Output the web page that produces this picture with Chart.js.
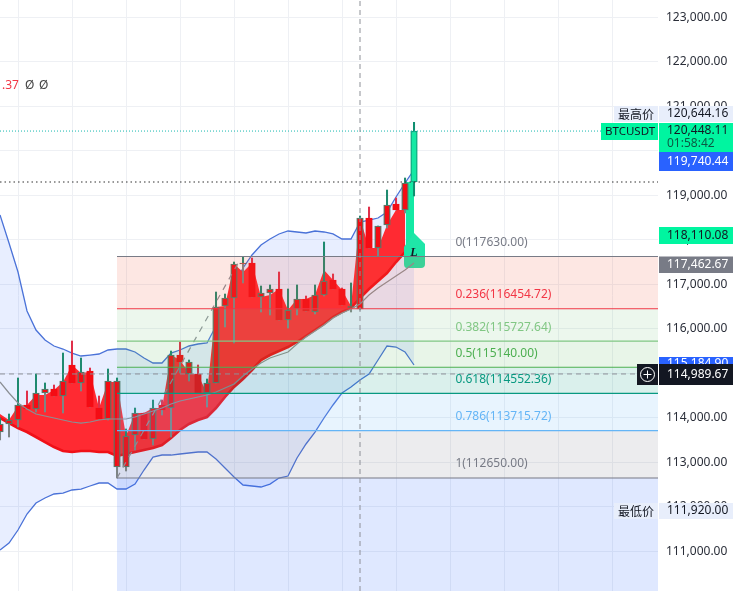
<!DOCTYPE html>
<html>
<head>
<meta charset="utf-8">
<title>BTCUSDT</title>
<script src="https://cdn.jsdelivr.net/npm/chart.js@4"></script>
<style>
  html, body { margin: 0; padding: 0; background: #fff; }
  canvas { display: block; }
</style>
</head>
<body>
<canvas id="chartCanvas" width="737" height="591"></canvas>
<script>
// --- Data (all prices) ---

const firstBar = -2;

const opens = [113865, 113955, 114292, 114292, 114562, 114651, 114651, 114831, 115191, 115033,
  115056, 114224, 114831, 114831, 113595, 114112, 114112, 114224, 114292, 115415,
  115415, 115258, 114989, 114787, 116494, 116696, 117460, 117483, 117483, 116809,
  116899, 116899, 116427, 116674, 116674, 116764, 117079, 117101, 116899, 116517,
  118494, 118494, 118314, 118786, 118809, 119281, 119303];
const closes = [113685, 113865, 113955, 114202, 114202, 114562, 114494, 114494, 114787, 114787,
  114247, 113977, 113977, 112899, 112899, 113618, 113528, 113528, 114179, 114224,
  115258, 114989, 114562, 114562, 114787, 116517, 116696, 117460, 116719, 116719,
  116809, 116202, 116202, 116449, 116404, 116382, 116764, 116899, 116539, 116472,
  116449, 117820, 117820, 118337, 118674, 118674, 120448];
const highs = [114000, 114090, 114899, 114607, 114989, 114787, 114741, 115460, 115730, 115348,
  115123, 114494, 115101, 114899, 113753, 114224, 114112, 114404, 114404, 115505,
  115708, 115303, 115191, 114876, 116831, 116786, 117505, 117618, 117595, 116966,
  116989, 117281, 116899, 116989, 116741, 116989, 117955, 117236, 116921, 117034,
  118539, 118741, 118314, 119123, 118944, 119393, 120644];
const lows = [113505, 113573, 113798, 114202, 114134, 114134, 114494, 114112, 114787, 114607,
  114247, 113977, 113955, 112651, 112809, 113281, 113528, 113393, 114067, 113573,
  115011, 114831, 114562, 114247, 114787, 116045, 115685, 117034, 116719, 116382,
  116315, 116202, 116022, 116315, 116404, 116337, 116741, 116899, 116539, 116382,
  116427, 117820, 117640, 118270, 118674, 118607, 118989];

const bandUpper = [118562, 117933, 117281, 116404, 115977, 115753, 115618, 115550, 115460, 115393,
  115415, 115438, 115528, 115550, 115550, 115483, 115348, 115236, 115236, 115460,
  115528, 115618, 115663, 115685, 116067, 116517, 116966, 117371, 117663, 117888,
  118022, 118135, 118202, 118180, 118157, 118202, 118180, 118135, 118022, 118022,
  118404, 118449, 118494, 118629, 118966, 119281, 119573];
const bandLower = [111033, 111191, 111483, 111842, 112090, 112202, 112292, 112314, 112382, 112404,
  112472, 112539, 112539, 112404, 112404, 112516, 112831, 113123, 113168, 113168,
  113191, 113213, 113236, 113236, 113078, 112876, 112674, 112494, 112472, 112449,
  112516, 112651, 112696, 113101, 113416, 113685, 114000, 114292, 114562, 114697,
  114854, 114989, 115303, 115618, 115595, 115483, 115191];
const bandMiddle = [114809, 114562, 114337, 114202, 114090, 114045, 114000, 113955, 113910, 113887,
  113910, 113955, 113977, 113977, 113977, 114022, 114090, 114157, 114224, 114314,
  114382, 114427, 114472, 114517, 114584, 114674, 114764, 114944, 115101, 115236,
  115348, 115415, 115483, 115663, 115820, 115955, 116090, 116247, 116360, 116449,
  116562, 116764, 116921, 117056, 117191, 117326, 117483];

const areaTop = [114090, 113955, 114269, 114292, 114517, 114517, 114629, 114809, 115191, 115011,
  115033, 114224, 114809, 114809, 113595, 114112, 114112, 114224, 114224, 115415,
  115303, 115011, 114966, 114562, 116494, 116517, 117460, 117281, 117483, 116719,
  116764, 116899, 116427, 116674, 116674, 116764, 117326, 117101, 116876, 116517,
  118494, 117820, 117820, 118337, 118674, 118674];
const areaBottom = [114000, 113887, 113775, 113685, 113573, 113460, 113348, 113258, 113236, 113258,
  113258, 113236, 113236, 113146, 113191, 113236, 113281, 113326, 113393, 113550,
  113730, 113865, 113955, 114022, 114224, 114472, 114697, 114876, 115078, 115303,
  115415, 115505, 115595, 115708, 115843, 115977, 116112, 116270, 116382, 116472,
  116696, 116899, 117079, 117258, 117505, 117730];

// wedge between the last two bars, above the signal tag
const wedgeBars = [43.1, 44];
const wedgeTop = [119303, 119303];
const wedgeBottom = [117505, 117955];

const fibRatios = ['0', '0.236', '0.382', '0.5', '0.618', '0.786', '1'];
const fibLevels = [117630, 116454.72, 115727.64, 115140, 114552.36, 113715.72, 112650];

const trendBars = [11, 24.5];
const trendPrices = [112650, 117500];

const currentPrice = 120448.11;
const openLinePrice = 119303;
const crossPrice = 114989.67;
const crossBar = 38;

const priceTicks = [111000, 112000, 113000, 114000, 115000, 116000, 117000, 118000, 119000, 120000, 121000, 122000, 123000];
const barTicks = [0, 6, 12, 18, 24, 30, 36, 42, 48, 54, 60, 66];

// --- Styles ---

const scaleMin = 110112.4;
const scaleMax = 123393;
const barMin = -2;
const barMax = 71.11;
const fibStart = 11;
const fibColors = ['#787b86', '#f23645', '#81c784', '#4caf50', '#089981', '#64b5f6', '#787b86'];
const fibFills = ['rgba(242,82,60,0.14)', 'rgba(129,199,132,0.15)', 'rgba(76,175,80,0.13)',
  'rgba(8,153,129,0.15)', 'rgba(100,181,246,0.15)', 'rgba(120,123,134,0.14)', 'rgba(41,98,255,0.15)'];
const fibTextBars = 48.6;
const unframed = [1, 4, 6, 8, 9, 14, 16, 18, 20, 26, 29, 32, 35, 36, 39, 42];
const uiFont = '"Noto Sans", sans-serif';
const cjkFont = '"Noto Sans CJK SC", sans-serif';
const GREEN = '#14e9a4';
const LAST = 44;

const toPoints = (values) => values.map((v, i) => ({ x: firstBar + i, y: v }));
const flat = (x0, x1, y) => [{ x: x0, y }, { x: x1, y }];

function lineSet(data, color, width, order, extra) {
    return Object.assign({
        type: 'line', data, borderColor: color, borderWidth: width, order,
        pointRadius: 0, tension: 0, fill: false
    }, extra || {});
}

function barSet(data, order, thickness, bg, border, borderWidth) {
    return {
        type: 'bar', data, order, barThickness: thickness, grouped: false,
        backgroundColor: bg, borderColor: border, borderWidth, borderSkipped: false
    };
}

const isFramed = (ctx) => !unframed.includes(firstBar + ctx.dataIndex);
const isLast = (ctx) => firstBar + ctx.dataIndex === LAST;

// Build every dataset; a low order number draws on top, the fib boxes sit over the candles
function buildDatasets() {
    const sets = [];

    sets.push(lineSet(toPoints(bandUpper), '#4a72d8', 1.3, 30, { fill: '+1', backgroundColor: 'rgba(41,98,255,0.11)' }));
    sets.push(lineSet(toPoints(bandLower), '#4a72d8', 1.3, 29));

    sets.push(lineSet(toPoints(areaTop), 'rgba(0,0,0,0)', 0, 28, { fill: '+1', backgroundColor: '#ff2a32' }));
    sets.push(lineSet(toPoints(areaBottom), '#f01018', 2.6, 27));

    const wedgeIdx = sets.length;
    sets.push(lineSet(wedgeBars.map((x, i) => ({ x, y: wedgeTop[i] })), 'rgba(0,0,0,0)', 0, 26, { fill: '+1', backgroundColor: GREEN }));
    sets.push(lineSet(wedgeBars.map((x, i) => ({ x, y: wedgeBottom[i] })), 'rgba(0,0,0,0)', 0, 25));

    sets.push(barSet(highs.map((h, i) => ({ x: firstBar + i, y: [Math.max(opens[i], closes[i]), h] })), 24, 1.4,
        (ctx) => isLast(ctx) ? '#0f8f70' : isFramed(ctx) ? '#1f8a6f' : '#e0304a', 'rgba(0,0,0,0)', 0));
    sets.push(barSet(lows.map((l, i) => ({ x: firstBar + i, y: [l, Math.min(opens[i], closes[i])] })), 23, 1.4,
        (ctx) => isLast(ctx) ? '#0f8f70' : '#7d8585', 'rgba(0,0,0,0)', 0));
    sets.push(barSet(opens.map((o, i) => ({ x: firstBar + i, y: [o, closes[i]] })), 22, 6.6,
        (ctx) => isLast(ctx) ? GREEN : '#f40c14',
        (ctx) => isLast(ctx) ? '#0fa67e' : isFramed(ctx) ? '#5c7566' : '#f40c14', 1.4));

    sets.push(lineSet(toPoints(bandMiddle), '#8b8f94', 1.2, 21));

    sets.push(lineSet(trendBars.map((x, i) => ({ x, y: trendPrices[i] })), '#8d9097', 1.2, 20, { borderDash: [6, 6] }));

    // fib levels, each filled down to the next one
    fibLevels.forEach((level, i) => {
        const fill = i < fibLevels.length - 1 ? '+1' : 'start';
        sets.push(lineSet(flat(fibStart, barMax, level), fibColors[i], 1.1, 19 - i * 0.1, {
            fill, backgroundColor: fibFills[i]
        }));
    });

    sets.push(lineSet(flat(barMin, 64.9, currentPrice), '#16b8b0', 1, 5, { borderDash: [1, 2] }));
    sets.push(lineSet(flat(barMin, barMax, openLinePrice), '#333333', 1.1, 4, { borderDash: [1.5, 3] }));
    sets.push(lineSet(flat(barMin, 68.6, crossPrice), '#8d9097', 1, 3, { borderDash: [5, 4] }));
    sets.push(lineSet([{ x: crossBar, y: scaleMin }, { x: crossBar, y: scaleMax }], '#8d9097', 1, 2, { borderDash: [5, 4] }));

    return { sets, wedgeIdx };
}

function tag(ctx, x, top, w, h, bg, text, color, textX, font) {
    ctx.fillStyle = bg;
    ctx.fillRect(x, top, w, h);
    ctx.fillStyle = color;
    ctx.font = font || '12px ' + uiFont;
    ctx.textAlign = 'left';
    ctx.textBaseline = 'middle';
    ctx.fillText(text, textX, top + h / 2);
}

// Green signal tag, sits under the fib lines
const signalTag = {
    id: 'signalTag',
    afterDatasetDraw(chart, args) {
        if (args.index !== built.wedgeIdx) return;
        const ctx = chart.ctx;
        const x = chart.scales.x.getPixelForValue(LAST);
        const y = chart.scales.y.getPixelForValue(118110);
        ctx.save();
        ctx.fillStyle = '#1fe6a8';
        ctx.beginPath();
        ctx.moveTo(x, y - 2);
        ctx.lineTo(x + 9, y + 7);
        ctx.lineTo(x + 11, y + 9);
        ctx.lineTo(x + 11, y + 29);
        ctx.quadraticCurveTo(x + 11, y + 33, x + 7, y + 33);
        ctx.lineTo(x - 7, y + 33);
        ctx.quadraticCurveTo(x - 10, y + 33, x - 10, y + 29);
        ctx.lineTo(x - 10, y + 12);
        ctx.closePath();
        ctx.fill();
        ctx.fillStyle = '#131722';
        ctx.font = 'italic bold 12px "Liberation Serif", serif';
        ctx.textAlign = 'center';
        ctx.textBaseline = 'middle';
        ctx.fillText('L', x, y + 18);
        ctx.restore();
    }
};

// Fib captions, the axis price tags and the leftover legend text
const overlay = {
    id: 'overlay',
    afterDraw(chart) {
        const ctx = chart.ctx;
        const xs = chart.scales.x;
        const ys = chart.scales.y;
        ctx.save();

        ctx.font = '12px ' + uiFont;
        ctx.textAlign = 'left';
        ctx.textBaseline = 'middle';
        fibLevels.forEach((level, i) => {
            ctx.fillStyle = fibColors[i];
            ctx.fillText(fibRatios[i] + '(' + level.toFixed(2) + ')', xs.getPixelForValue(fibTextBars), ys.getPixelForValue(level) - 14);
        });

        ctx.fillStyle = '#f23645';
        ctx.fillText('.37', 2, 86);
        ctx.fillStyle = '#444';
        ctx.fillText('Ø', 25, 86);
        ctx.fillText('Ø', 39, 86);

        const tagX = 659;
        const tagW = 74;
        const textX = 667;

        // highest price
        tag(ctx, 614, 106, 44, 16, '#e8eefb', '最高价', '#131722', 618, '12px ' + cjkFont);
        tag(ctx, tagX, 106, tagW, 16, '#e8eefb', '120,644.16', '#131722', textX);

        // last price, symbol + countdown
        tag(ctx, 601, 123, 57, 17, '#00f5a0', 'BTCUSDT', '#131722', 605, '11.5px ' + uiFont);
        tag(ctx, tagX, 123, tagW, 29, '#00f5a0', '', '#131722', textX);
        ctx.fillStyle = '#131722';
        ctx.font = '12px ' + uiFont;
        ctx.fillText('120,448.11', textX, 131);
        ctx.fillStyle = '#0b5a44';
        ctx.fillText('01:58:42', textX, 144);

        tag(ctx, tagX, 152, tagW, 19, '#2962ff', '119,740.44', '#ffffff', textX);
        tag(ctx, tagX, 227, tagW, 17, '#00f5a0', '118,110.08', '#131722', textX);
        tag(ctx, tagX, 256.5, tagW, 16.5, '#787b86', '117,462.67', '#ffffff', textX);
        tag(ctx, tagX, 357, tagW, 14, '#2962ff', '115,184.90', '#ffffff', textX);

        // crosshair price and plus button
        tag(ctx, tagX, 364, tagW, 21, '#131722', '114,989.67', '#ffffff', textX);
        ctx.fillStyle = '#131722';
        ctx.fillRect(637, 364, 21, 21);
        ctx.strokeStyle = '#ffffff';
        ctx.lineWidth = 1;
        ctx.beginPath();
        ctx.arc(647.5, 374.5, 7, 0, Math.PI * 2);
        ctx.moveTo(643.5, 374.5);
        ctx.lineTo(651.5, 374.5);
        ctx.moveTo(647.5, 370.5);
        ctx.lineTo(647.5, 378.5);
        ctx.stroke();

        // lowest price
        tag(ctx, 614, 503, 44, 16, '#e8eefb', '最低价', '#131722', 618, '12px ' + cjkFont);
        tag(ctx, tagX, 503, tagW, 16, '#e8eefb', '111,920.00', '#131722', textX);

        ctx.restore();
    }
};

const built = buildDatasets();

new Chart(document.getElementById('chartCanvas'), {
    data: { datasets: built.sets },
    plugins: [signalTag, overlay],
    options: {
        responsive: false,
        animation: false,
        events: [],
        layout: { padding: 0, autoPadding: false },
        plugins: {
            legend: { display: false },
            title: { display: false },
            tooltip: { enabled: false }
        },
        scales: {
            x: {
                type: 'linear',
                min: barMin,
                max: barMax,
                offset: false,
                afterBuildTicks: (s) => { s.ticks = barTicks.map((value) => ({ value })); },
                afterFit: (s) => { s.height = 0; s.paddingLeft = 0; s.paddingRight = 0; },
                ticks: { display: false },
                grid: { color: '#eef0f4', lineWidth: 1, drawTicks: false, offset: false },
                border: { display: false }
            },
            y: {
                type: 'linear',
                position: 'right',
                min: scaleMin,
                max: scaleMax,
                afterBuildTicks: (s) => { s.ticks = priceTicks.map((value) => ({ value })); },
                afterFit: (s) => { s.width = 79; s.paddingTop = 0; s.paddingBottom = 0; },
                ticks: {
                    autoSkip: false,
                    padding: 8,
                    color: '#2a2e39',
                    font: { family: '"Noto Sans", sans-serif', size: 12 },
                    callback: (v) => Number(v).toLocaleString('en-US') + '.00'
                },
                grid: { color: '#eef0f4', lineWidth: 1, drawTicks: false, offset: false },
                border: { display: false }
            }
        }
    }
});
</script>
</body>
</html>
